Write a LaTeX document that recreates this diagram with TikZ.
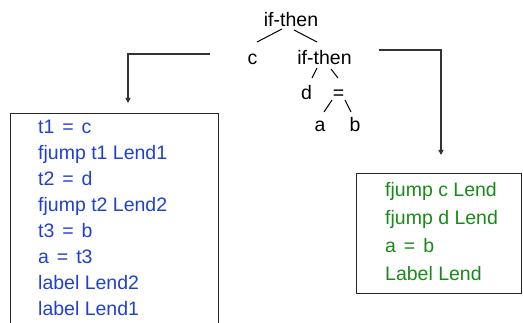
\documentclass[tikz,border=0pt]{standalone}
\usepackage{fontspec}
\setmainfont{Liberation Sans}
\usetikzlibrary{calc,arrows.meta}
\definecolor{codeblue}{RGB}{32,64,210}
\definecolor{codegreen}{RGB}{24,138,24}
% assignment sign with a little extra room on both sides
\newcommand{\asgn}{\ \hspace{2.5pt}=\hspace{2.5pt}\ }
\begin{document}
\begin{tikzpicture}[x=1pt,y=-1pt,
  every node/.style={font=\fontsize{19.5}{23}\selectfont, inner sep=0pt},
  tnode/.style={anchor=base, text=black},
  tedge/.style={draw=black, line width=1pt},
  codebox/.style={draw=black!85, line width=1.1pt, anchor=north west, fill=none},
  bluecode/.style={anchor=base west, text=codeblue},
  greencode/.style={anchor=base west, text=codegreen},
  flow/.style={draw=black!80, line width=1.4pt, -{Triangle[length=5pt,width=5pt]}}]
\clip (0,0) rectangle (523,323);
\useasboundingbox (0,0) rectangle (523,323);

% expression tree
\node[tnode] (top) at (291,27) {if-then};
\node[tnode] (c)   at (252.5,65) {c};
\node[tnode] (if2) at (324.5,65) {if-then};
\node[tnode] (d)   at (306.5,100) {d};
\node[tnode] (eq)  at (338.5,100) {=};
\node[tnode] (a)   at (320,132) {a};
\node[tnode] (b)   at (355,132) {b};

\draw[tedge] ($(top.base)+(-9,2)$) -- ($(c.base)+(4.5,-23)$);
\draw[tedge] ($(top.base)+(3,3)$) -- ($(if2.base)+(-7.5,-23)$);
\draw[tedge] ($(if2.base)+(-7.5,3)$) -- ($(d.base)+(5.5,-22)$);
\draw[tedge] ($(if2.base)+(6.5,4)$) -- ($(eq.base)+(-0.5,-22)$);
\draw[tedge] ($(eq.base)+(-6.5,0)$) -- ($(a.base)+(4,-20)$);
\draw[tedge] ($(eq.base)+(6.5,0)$) -- ($(b.base)+(-4,-20)$);

% code boxes
\node[codebox, minimum width=208.5pt, minimum height=220pt] (lbox) at (9.5,113) {};
\node[codebox, minimum width=165pt, minimum height=120pt] (rbox) at (356,173) {};

\foreach \t [count=\i] in {t1\asgn c, fjump t1 Lend1, t2\asgn d, fjump t2 Lend2,
                           t3\asgn b, a\asgn t3, label Lend2, label Lend1}
  \node[bluecode] (l\i) at (38,{134+26*(\i-1)}) {\t};

\foreach \t [count=\i] in {fjump c Lend, fjump d Lend, a\asgn b, Label Lend}
  \node[greencode] (r\i) at (385,{197+28*(\i-1)}) {\t};

% translation arrows
\coordinate (lstart) at (210,54);
\coordinate (rstart) at (379,50);
\draw[flow, shorten >=10pt] (lstart) -| (lbox.north -| 128,0);
\draw[flow, shorten >=18pt] (rstart) -| (rbox.north -| 441,0);
\end{tikzpicture}
\end{document}
